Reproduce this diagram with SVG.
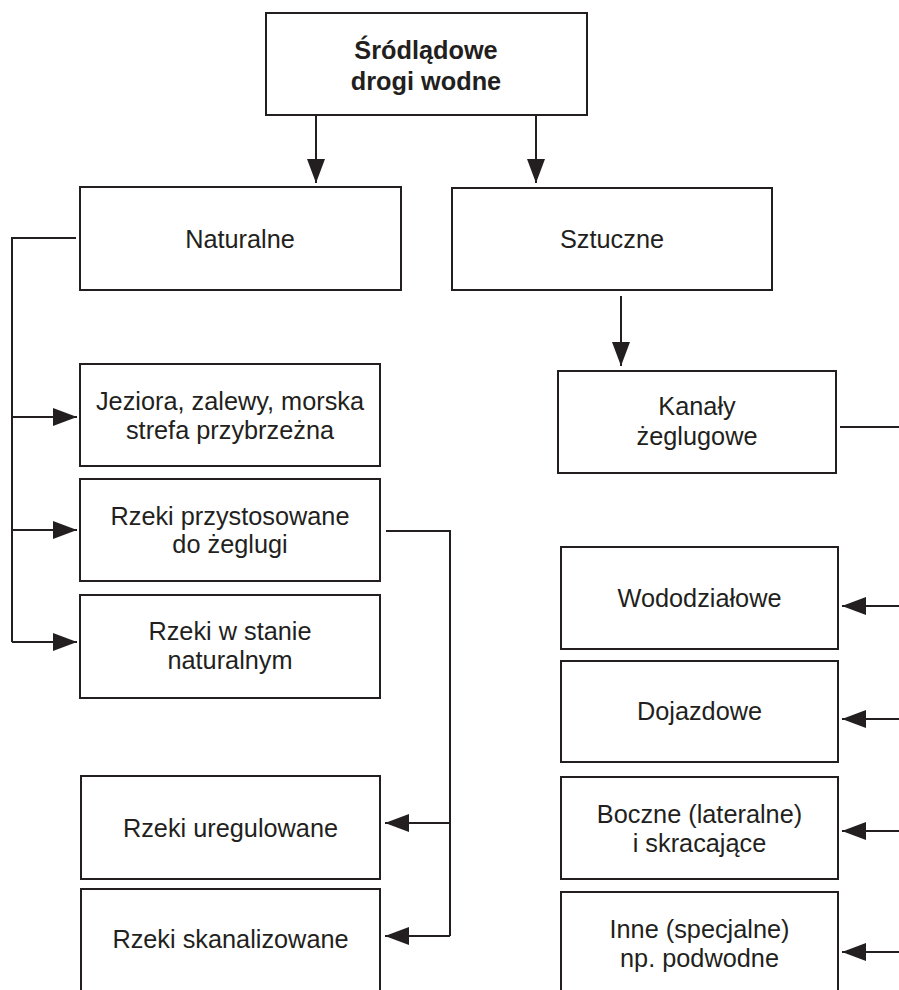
<svg xmlns="http://www.w3.org/2000/svg" width="899" height="990" viewBox="0 0 899 990">
<style>
.box{fill:#fff;stroke:#231f20;stroke-width:2}
.t{font-family:"Liberation Sans",Arial,sans-serif;font-size:25.3px;fill:#231f20;text-anchor:middle}
.b{font-weight:bold}
.c{fill:none;stroke:#231f20;stroke-width:2}
</style>
<defs>
<marker id="ah" markerUnits="userSpaceOnUse" markerWidth="24" markerHeight="18" refX="24" refY="9" orient="auto">
<path d="M0,0 L24,9 L0,18 z" fill="#231f20"/>
</marker>
</defs>
<rect width="899" height="990" fill="#fff"/>
<g id="connectors">
<path class="c" d="M316,116 V183" marker-end="url(#ah)"/>
<path class="c" d="M536,116 V183" marker-end="url(#ah)"/>
<path class="c" d="M621,296 V366" marker-end="url(#ah)"/>
<path class="c" d="M76,238 H12 V642"/>
<path class="c" d="M12,417 H77" marker-end="url(#ah)"/>
<path class="c" d="M12,530 H77" marker-end="url(#ah)"/>
<path class="c" d="M12,642 H77" marker-end="url(#ah)"/>
<path class="c" d="M386,531 H450 V936"/>
<path class="c" d="M450,823 H385" marker-end="url(#ah)"/>
<path class="c" d="M450,936 H385" marker-end="url(#ah)"/>
<path class="c" d="M840,427 H899"/>
<path class="c" d="M899,606 H842" marker-end="url(#ah)"/>
<path class="c" d="M899,719 H842" marker-end="url(#ah)"/>
<path class="c" d="M899,831 H842" marker-end="url(#ah)"/>
<path class="c" d="M899,952 H842" marker-end="url(#ah)"/>
</g>
<g id="root"><rect class="box" x="266" y="13" width="321" height="102"/><text class="t b" x="426" y="59">Śródlądowe</text><text class="t b" x="426" y="90">drogi wodne</text></g>
<g id="naturalne"><rect class="box" x="80" y="187" width="321" height="103"/><text class="t" x="240" y="248">Naturalne</text></g>
<g id="sztuczne"><rect class="box" x="452" y="188" width="320" height="102"/><text class="t" x="612" y="248">Sztuczne</text></g>
<g id="jeziora"><rect class="box" x="80" y="364" width="300" height="102"/><text class="t" x="230" y="410">Jeziora, zalewy, morska</text><text class="t" x="230" y="439">strefa przybrzeżna</text></g>
<g id="przystosowane"><rect class="box" x="80" y="479" width="300" height="102"/><text class="t" x="230" y="525">Rzeki przystosowane</text><text class="t" x="230" y="553">do żeglugi</text></g>
<g id="naturalnym"><rect class="box" x="80" y="595" width="300" height="103"/><text class="t" x="230" y="640">Rzeki w stanie</text><text class="t" x="230" y="669">naturalnym</text></g>
<g id="uregulowane"><rect class="box" x="81" y="776" width="299" height="103"/><text class="t" x="230.5" y="837">Rzeki uregulowane</text></g>
<g id="skanalizowane"><rect class="box" x="81" y="889" width="299" height="120"/><text class="t" x="230.5" y="948">Rzeki skanalizowane</text></g>
<g id="kanaly"><rect class="box" x="558" y="371" width="278" height="102"/><text class="t" x="697" y="415">Kanały</text><text class="t" x="697" y="445">żeglugowe</text></g>
<g id="wododzialowe"><rect class="box" x="561" y="547" width="277" height="102"/><text class="t" x="699.5" y="607">Wododziałowe</text></g>
<g id="dojazdowe"><rect class="box" x="561" y="661" width="277" height="101"/><text class="t" x="699.5" y="720">Dojazdowe</text></g>
<g id="boczne"><rect class="box" x="561" y="777" width="277" height="102"/><text class="t" x="699.5" y="823">Boczne (lateralne)</text><text class="t" x="699.5" y="852">i skracające</text></g>
<g id="inne"><rect class="box" x="561" y="892" width="277" height="120"/><text class="t" x="699.5" y="938">Inne (specjalne)</text><text class="t" x="699.5" y="967">np. podwodne</text></g>
</svg>
